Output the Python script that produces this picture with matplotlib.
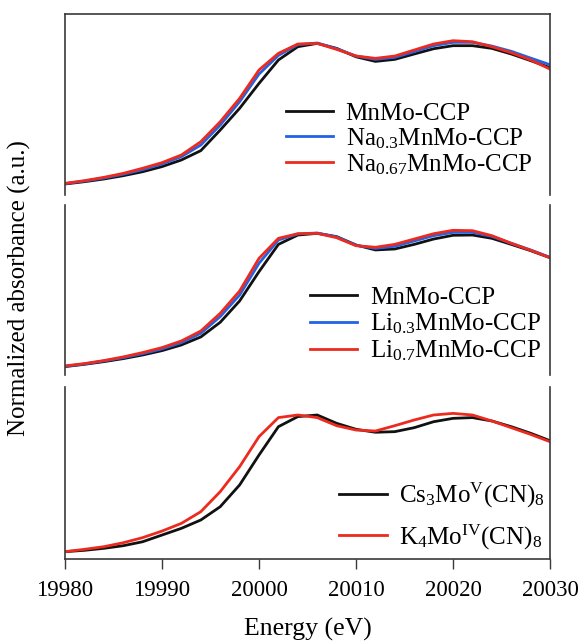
import numpy as np
import matplotlib
matplotlib.use('Agg')
from matplotlib import pyplot as plt

plt.rcParams['font.family'] = ['Liberation Serif', 'DejaVu Serif']
plt.rcParams['mathtext.fontset'] = 'custom'
plt.rcParams['mathtext.rm'] = 'Liberation Serif'
plt.rcParams['mathtext.it'] = 'Liberation Serif:italic'

# Mo K-edge XANES, normalized absorbance (a.u.)
energy = [19980, 19982, 19984, 19986, 19988, 19990, 19992, 19994, 19996, 19998,
          20000, 20002, 20004, 20006, 20008, 20010, 20012, 20014, 20016, 20018,
          20020, 20022, 20024, 20026, 20028, 20030]

# top panel: Na-inserted samples
mnmo_a = [0.000, 0.018, 0.039, 0.065, 0.096, 0.136, 0.188, 0.261, 0.422, 0.592,
          0.787, 0.970, 1.074, 1.100, 1.061, 0.995, 0.959, 0.975, 1.017, 1.058,
          1.082, 1.082, 1.061, 1.017, 0.965, 0.910]
na03 = [0.003, 0.023, 0.047, 0.076, 0.112, 0.156, 0.214, 0.305, 0.461, 0.644,
        0.860, 1.006, 1.090, 1.103, 1.058, 1.001, 0.975, 0.991, 1.035, 1.082,
        1.108, 1.108, 1.079, 1.038, 0.985, 0.933]
na067 = [0.005, 0.026, 0.052, 0.083, 0.123, 0.167, 0.227, 0.331, 0.487, 0.670,
         0.892, 1.022, 1.095, 1.100, 1.053, 1.001, 0.983, 1.001, 1.048, 1.095,
         1.121, 1.113, 1.074, 1.027, 0.970, 0.899]

# middle panel: Li-inserted samples
mnmo_b = [0.000, 0.019, 0.041, 0.066, 0.096, 0.132, 0.179, 0.245, 0.366, 0.542,
          0.784, 1.009, 1.086, 1.100, 1.073, 1.004, 0.963, 0.971, 1.009, 1.053,
          1.084, 1.086, 1.059, 1.009, 0.957, 0.899]
li03 = [0.003, 0.022, 0.047, 0.074, 0.107, 0.146, 0.198, 0.275, 0.413, 0.591,
        0.853, 1.045, 1.095, 1.103, 1.070, 1.001, 0.976, 0.993, 1.037, 1.081,
        1.108, 1.108, 1.075, 1.018, 0.963, 0.902]
li07 = [0.006, 0.025, 0.050, 0.080, 0.116, 0.157, 0.212, 0.294, 0.440, 0.624,
        0.894, 1.059, 1.097, 1.100, 1.064, 0.998, 0.985, 1.009, 1.053, 1.097,
        1.125, 1.122, 1.081, 1.018, 0.960, 0.899]

# bottom panel: references
cs3mo = [0.000, 0.011, 0.027, 0.048, 0.080, 0.134, 0.188, 0.255, 0.362, 0.537,
         0.778, 1.006, 1.087, 1.100, 1.033, 0.985, 0.961, 0.966, 0.998, 1.046,
         1.073, 1.079, 1.052, 1.006, 0.953, 0.893]
k4mo = [0.000, 0.019, 0.040, 0.072, 0.113, 0.166, 0.228, 0.322, 0.483, 0.684,
        0.926, 1.079, 1.100, 1.079, 1.014, 0.979, 0.971, 1.014, 1.060, 1.100,
        1.113, 1.100, 1.052, 0.998, 0.944, 0.885]

xticks = [19980, 19990, 20000, 20010, 20020, 20030]

BLACK = '#111111'
BLUE = '#2262e6'
RED = '#ec2a1e'
SPINE = '#3a3a3a'

fig = plt.figure(figsize=(5.81, 6.41), dpi=100)
ax1 = fig.add_axes([0.1119, 0.6958, 0.8348, 0.2824])
ax2 = fig.add_axes([0.1119, 0.4150, 0.8348, 0.2652], sharex=ax1)
ax3 = fig.add_axes([0.1119, 0.1279, 0.8348, 0.2683], sharex=ax1)

# (axes, curves, ylim, legend anchor, legend row spacing)
panels = [
    (ax1, [(mnmo_a, BLACK, 'MnMo-CCP'),
           (na03, BLUE, 'Na$_{0.3}$MnMo-CCP'),
           (na067, RED, 'Na$_{0.67}$MnMo-CCP')],
     (-0.086, 1.330), (0.455, 0.512), 0.05),
    (ax2, [(mnmo_b, BLACK, 'MnMo-CCP'),
           (li03, BLUE, 'Li$_{0.3}$MnMo-CCP'),
           (li07, RED, 'Li$_{0.7}$MnMo-CCP')],
     (-0.069, 1.334), (0.505, 0.52), 0.1),
    (ax3, [(cs3mo, BLACK, r'Cs$_3$Mo$^{\mathrm{V}}$(CN)$_8$'),
           (k4mo, RED, r'K$_4$Mo$^{\mathrm{IV}}$(CN)$_8$')],
     (-0.059, 1.325), (0.565, 0.455), 0.5),
]

for ax, curves, ylim, anchor, spacing in panels:
    for y, c, lab in curves:
        ax.plot(energy, y, color=c, lw=2.0, label=lab)
    ax.set_ylim(*ylim)
    ax.set_yticks([])
    for s in ax.spines.values():
        s.set_color(SPINE)
        s.set_linewidth(1.2)
    ax.legend(loc='upper left', bbox_to_anchor=anchor, frameon=False,
              fontsize=18, handlelength=1.9, handletextpad=0.5,
              borderpad=0, borderaxespad=0, labelspacing=spacing)

ax1.spines['bottom'].set_visible(False)
ax2.spines['bottom'].set_visible(False)
ax2.spines['top'].set_visible(False)
ax3.spines['top'].set_visible(False)
for ax in (ax1, ax2):
    ax.tick_params(bottom=False, labelbottom=False)

ax3.set_xlim(19980, 20030)
ax3.set_xticks(xticks)
ax3.tick_params(axis='x', direction='out', length=7, width=1.0,
                color=SPINE, labelsize=16.5, pad=8)
ax3.set_xlabel('Energy (eV)', fontsize=18.5, labelpad=12)

fig.text(0.034, 0.551, 'Normalized absorbance (a.u.)', rotation=90,
         fontsize=18, ha='center', va='center')

fig.savefig('out.png', dpi=100)
